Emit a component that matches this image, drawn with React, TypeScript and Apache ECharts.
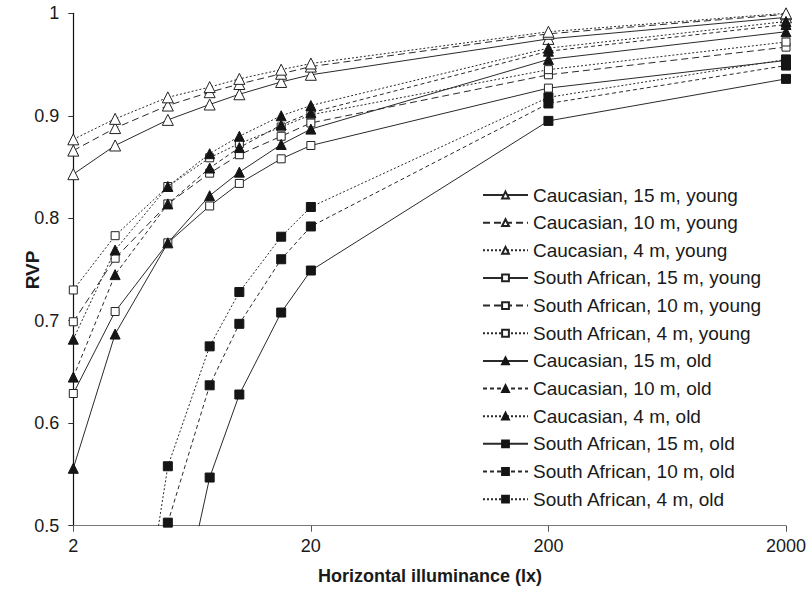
import React, { useEffect, useRef } from "react";
import * as echarts from "echarts";

const illuminance = [2, 3, 5, 7.5, 10, 15, 20, 200, 2000];
const xTickLabels = [2, 20, 200, 2000];
const yMin = 0.5;
const yMax = 1;
const yStep = 0.1;

const caucasian15Young = [0.843, 0.871, 0.896, 0.911, 0.921, 0.933, 0.94, 0.975, 0.996];
const caucasian10Young = [0.866, 0.888, 0.91, 0.923, 0.931, 0.941, 0.948, 0.98, 0.999];
const caucasian4Young = [0.877, 0.897, 0.918, 0.928, 0.936, 0.945, 0.951, 0.982, 1.0];
const southAfrican15Young = [0.629, 0.709, 0.776, 0.812, 0.834, 0.858, 0.871, 0.927, 0.954];
const southAfrican10Young = [0.699, 0.761, 0.814, 0.844, 0.862, 0.88, 0.893, 0.94, 0.967];
const southAfrican4Young = [0.73, 0.783, 0.831, 0.859, 0.873, 0.889, 0.901, 0.945, 0.972];
const caucasian15Old = [0.556, 0.687, 0.776, 0.822, 0.845, 0.872, 0.887, 0.955, 0.982];
const caucasian10Old = [0.645, 0.745, 0.814, 0.849, 0.869, 0.891, 0.903, 0.963, 0.989];
const caucasian4Old = [0.682, 0.769, 0.831, 0.863, 0.88, 0.9, 0.91, 0.966, 0.992];
const southAfrican15Old = [null, null, 0.36, 0.547, 0.628, 0.708, 0.749, 0.895, 0.936];
const southAfrican10Old = [null, 0.2, 0.503, 0.637, 0.697, 0.76, 0.792, 0.912, 0.949];
const southAfrican4Old = [null, 0.23, 0.558, 0.675, 0.728, 0.782, 0.811, 0.918, 0.955];

const seriesNames = [
  "Caucasian, 15 m, young",
  "Caucasian, 10 m, young",
  "Caucasian, 4 m, young",
  "South African, 15 m, young",
  "South African, 10 m, young",
  "South African, 4 m, young",
  "Caucasian, 15 m, old",
  "Caucasian, 10 m, old",
  "Caucasian, 4 m, old",
  "South African, 15 m, old",
  "South African, 10 m, old",
  "South African, 4 m, old",
];

const seriesValues = [
  caucasian15Young,
  caucasian10Young,
  caucasian4Young,
  southAfrican15Young,
  southAfrican10Young,
  southAfrican4Young,
  caucasian15Old,
  caucasian10Old,
  caucasian4Old,
  southAfrican15Old,
  southAfrican10Old,
  southAfrican4Old,
];

const FONT = "'Liberation Sans', Arial, sans-serif";

export default function App() {
  const ref = useRef<HTMLDivElement>(null);

  useEffect(() => {
    document.body.style.margin = "0";
    if (!ref.current) return;
    const chart = echarts.init(ref.current, null, { renderer: "svg" });

    const series = seriesNames.map((name, idx) => {
      const isTriangle = idx % 6 < 3;
      const isOld = idx >= 6;
      const dist = idx % 3; // 0: 15m, 1: 10m, 2: 4m
      let dash: any = "solid";
      if (dist === 1) dash = isOld ? [4, 3] : [7, 4];
      if (dist === 2) dash = [2, 2];
      const vals = seriesValues[idx];
      const data = illuminance
        .map((x, i) => [x, vals[i]])
        .filter((p) => p[1] !== null);
      return {
        name,
        type: "line",
        data,
        symbol: isTriangle ? "triangle" : "rect",
        symbolSize: isTriangle ? (isOld ? 10 : 11) : isOld ? 9 : 8,
        showSymbol: true,
        clip: true,
        lineStyle: { color: "#2a2a2a", width: 1, type: dash },
        itemStyle: isOld
          ? { color: "#151515", borderColor: "#151515", borderWidth: 1 }
          : { color: "#ffffff", borderColor: "#222222", borderWidth: 1 },
        emphasis: { disabled: true },
        z: isOld ? 3 : 2,
      };
    });

    chart.setOption({
      animation: false,
      backgroundColor: "#ffffff",
      grid: {
        left: 73.3,
        right: 23,
        top: 13.3,
        bottom: 63.3,
        containLabel: false,
        outerBoundsMode: "none",
      },
      xAxis: {
        type: "log",
        logBase: 10,
        min: 2,
        max: 2000,
        axisLine: { show: true, lineStyle: { color: "#777777", width: 1.2 } },
        axisTick: {
          show: true,
          inside: false,
          length: 6,
          customValues: xTickLabels,
          lineStyle: { color: "#555555" },
        },
        minorTick: { show: false },
        axisLabel: {
          customValues: xTickLabels,
          margin: 11,
          color: "#1a1a1a",
          fontSize: 18,
          fontFamily: FONT,
          formatter: (v: number) => String(Math.round(v)),
        },
        splitLine: { show: false },
        minorSplitLine: { show: false },
      },
      yAxis: {
        type: "value",
        min: yMin,
        max: yMax,
        interval: yStep,
        axisLine: { show: true, lineStyle: { color: "#111111", width: 1.2 } },
        axisTick: { show: true, inside: false, length: 5, lineStyle: { color: "#333333" } },
        axisLabel: {
          margin: 14,
          color: "#1a1a1a",
          fontSize: 18,
          fontFamily: FONT,
          formatter: (v: number) => String(Math.round(v * 10) / 10),
        },
        splitLine: { show: false },
      },
      legend: {
        orient: "vertical",
        left: 477,
        top: 180.5,
        itemWidth: 45,
        itemHeight: 8.5,
        itemGap: 8.65,
        selectedMode: false,
        data: seriesNames,
        textStyle: { fontSize: 19, fontFamily: FONT, color: "#1a1a1a" },
      },
      graphic: [
        {
          type: "text",
          x: 32,
          y: 270,
          rotation: Math.PI / 2,
          style: {
            text: "RVP",
            fontSize: 19,
            fontWeight: "bold",
            fontFamily: FONT,
            fill: "#1a1a1a",
            align: "center",
            verticalAlign: "middle",
          },
        },
        {
          type: "text",
          x: 430,
          y: 576,
          style: {
            text: "Horizontal illuminance (lx)",
            fontSize: 18,
            fontWeight: "bold",
            fontFamily: FONT,
            fill: "#1a1a1a",
            align: "center",
            verticalAlign: "middle",
          },
        },
      ],
      series,
    });

    return () => chart.dispose();
  }, []);

  return <div ref={ref} style={{ width: 809, height: 589 }} />;
}
